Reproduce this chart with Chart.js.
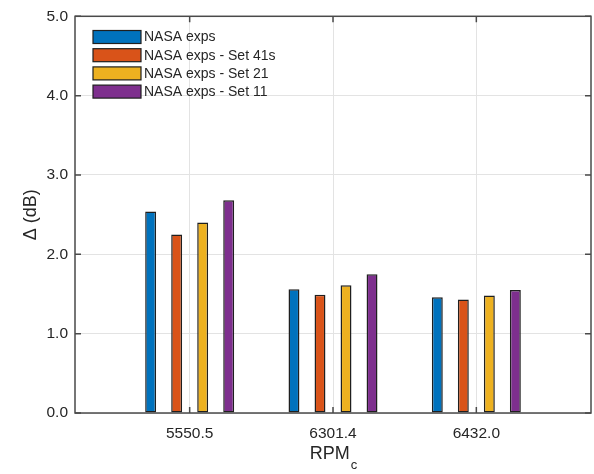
<!DOCTYPE html>
<html>
<head>
<meta charset="utf-8">
<script src="https://cdn.jsdelivr.net/npm/chart.js@4.4.1/dist/chart.umd.min.js"></script>
<style>
  html, body { margin: 0; padding: 0; background: #fff; }
  #wrap { width: 594px; height: 474px; }
</style>
</head>
<body>
<div id="wrap"><canvas id="chart" width="594" height="474"></canvas></div>
<script>
// categories (RPM_c) and bar values
const categories = ['5550.5', '6301.4', '6432.0'];
const seriesNames = ['NASA exps', 'NASA exps - Set 41s', 'NASA exps - Set 21', 'NASA exps - Set 11'];
const nasaExps = [2.54, 1.56, 1.46];
const set41s   = [2.25, 1.49, 1.43];
const set21    = [2.40, 1.61, 1.48];
const set11    = [2.68, 1.75, 1.55];
const yTicks   = [0, 1, 2, 3, 4, 5];

const colors = ['#0072BD', '#D95319', '#EDB120', '#7E2F8E'];
const FONT = "'Liberation Sans', Arial, Helvetica, sans-serif";
const TEXT = '#262626';
const AXIS = '#4a4a4a';

const allSeries = [nasaExps, set41s, set21, set11];

const datasets = allSeries.map((vals, i) => ({
  label: seriesNames[i],
  data: vals.map((v, k) => ({ x: k, y: v })),
  backgroundColor: colors[i],
  borderColor: '#1f1f1f',
  borderWidth: 1.5,
  borderSkipped: false,
  categoryPercentage: 0.726,
  barPercentage: 0.42
}));

// MATLAB-like box with inward ticks, x title and legend
const boxPlugin = {
  id: 'box',
  afterDraw(chart) {
    const { ctx, chartArea: a, scales } = chart;
    const tl = 6;
    ctx.save();
    ctx.strokeStyle = AXIS;
    ctx.lineWidth = 1.5;
    ctx.strokeRect(a.left, a.top, a.right - a.left, a.bottom - a.top);
    ctx.beginPath();
    scales.y.ticks.forEach(t => {
      const y = scales.y.getPixelForValue(t.value);
      ctx.moveTo(a.left, y); ctx.lineTo(a.left + tl, y);
      ctx.moveTo(a.right, y); ctx.lineTo(a.right - tl, y);
    });
    scales.x.ticks.forEach(t => {
      const x = scales.x.getPixelForValue(t.value);
      ctx.moveTo(x, a.bottom); ctx.lineTo(x, a.bottom - tl);
      ctx.moveTo(x, a.top); ctx.lineTo(x, a.top + tl);
    });
    ctx.stroke();

    // x title with subscript
    const cx = (a.left + a.right) / 2;
    ctx.fillStyle = TEXT;
    ctx.textBaseline = 'alphabetic';
    ctx.font = '18px ' + FONT;
    const w1 = ctx.measureText('RPM').width;
    ctx.font = '13px ' + FONT;
    const w2 = ctx.measureText('c').width;
    const x0 = cx - (w1 + w2) / 2;
    ctx.font = '18px ' + FONT;
    ctx.textAlign = 'left';
    ctx.fillText('RPM', x0, 459);
    ctx.font = '13px ' + FONT;
    ctx.fillText('c', x0 + w1 + 1, 469);

    // legend inside the axes, top-left
    ctx.font = '14px ' + FONT;
    ctx.textBaseline = 'middle';
    chart.data.datasets.forEach((ds, i) => {
      const top = 30.5 + i * 18.2;
      ctx.fillStyle = ds.backgroundColor;
      ctx.fillRect(93, top, 48, 13);
      ctx.strokeStyle = '#1f1f1f';
      ctx.lineWidth = 1.2;
      ctx.strokeRect(93, top, 48, 13);
      ctx.fillStyle = TEXT;
      ctx.fillText(ds.label, 144, top + 7);
    });
    ctx.restore();
  }
};

new Chart(document.getElementById('chart'), {
  type: 'bar',
  data: { datasets: datasets },
  options: {
    responsive: false,
    animation: false,
    devicePixelRatio: 1,
    layout: { padding: { top: 13, right: 3, left: 0, bottom: 0 } },
    plugins: {
      legend: { display: false },
      tooltip: { enabled: false }
    },
    scales: {
      x: {
        type: 'linear',
        min: -0.8,
        max: 2.8,
        offset: false,
        afterBuildTicks: s => { s.ticks = categories.map((c, i) => ({ value: i })); },
        afterFit: s => { s.height = 61; },
        ticks: {
          callback: v => categories[v],
          font: { family: FONT, size: 15.5 },
          color: TEXT,
          padding: 11,
          maxRotation: 0
        },
        grid: { color: '#e3e3e3', drawTicks: false, offset: false },
        border: { display: false }
      },
      y: {
        min: 0,
        max: 5,
        afterBuildTicks: s => { s.ticks = yTicks.map(v => ({ value: v })); },
        afterFit: s => { s.width = 75; },
        ticks: {
          callback: v => v.toFixed(1),
          font: { family: FONT, size: 15.5 },
          color: TEXT,
          padding: 7
        },
        grid: { color: '#e3e3e3', drawTicks: false },
        border: { display: false },
        title: {
          display: true,
          text: 'Δ (dB)',
          font: { family: FONT, size: 18 },
          color: TEXT,
          padding: { top: 20, bottom: 0 }
        }
      }
    }
  },
  plugins: [boxPlugin]
});
</script>
</body>
</html>
